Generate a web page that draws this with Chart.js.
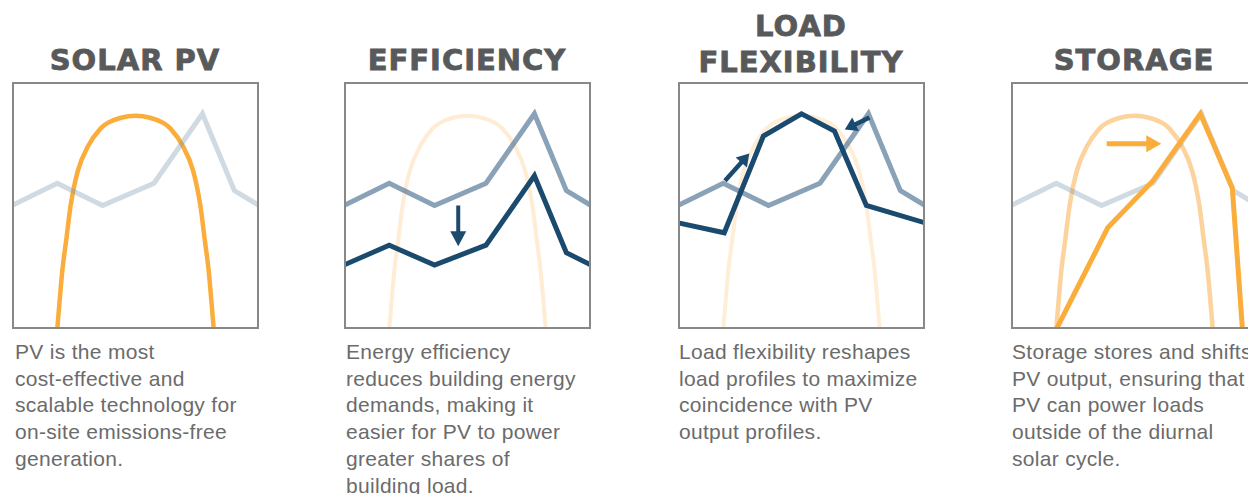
<!DOCTYPE html>
<html>
<head>
<meta charset="utf-8">
<script src="https://cdn.jsdelivr.net/npm/chart.js@4.4.0/dist/chart.umd.min.js"></script>
<style>
  html, body { margin: 0; padding: 0; background: #fff; overflow: hidden; width: 1248px; height: 494px; }
  .title { position: absolute; width: 330px; text-align: center; font-family: "DejaVu Sans", sans-serif; font-weight: bold;
           font-size: 29px; line-height: 36px; color: #58595b; letter-spacing: 1px; white-space: nowrap;
           -webkit-text-stroke: 0.8px #58595b; }
  .box { position: absolute; top: 82px; width: 247px; height: 247px; border: 2px solid #888; box-sizing: border-box; }
  .box canvas { display: block; }
  .desc { position: absolute; top: 339px; font-family: "Liberation Sans", Arial, sans-serif; font-size: 21px; line-height: 26.7px;
          color: #6b6b6b; letter-spacing: 0.3px; white-space: nowrap; }
</style>
</head>
<body>

<div class="title" style="left:-30px; top:42px">SOLAR PV</div>
<div class="title" style="left:302px; top:42px">EFFICIENCY</div>
<div class="title" style="left:636px; top:8px">LOAD<br>FLEXIBILITY</div>
<div class="title" style="left:969px; top:42px">STORAGE</div>

<div class="box" style="left:12px"><canvas id="c1" width="243" height="243"></canvas></div>
<div class="box" style="left:344px"><canvas id="c2" width="243" height="243"></canvas></div>
<div class="box" style="left:678px"><canvas id="c3" width="243" height="243"></canvas></div>
<div class="box" style="left:1011px"><canvas id="c4" width="243" height="243"></canvas></div>

<div class="desc" style="left:15px">PV is the most<br>cost-effective and<br>scalable technology for<br>on-site emissions-free<br>generation.</div>
<div class="desc" style="left:346px">Energy efficiency<br>reduces building energy<br>demands, making it<br>easier for PV to power<br>greater shares of<br>building load.</div>
<div class="desc" style="left:679px">Load flexibility reshapes<br>load profiles to maximize<br>coincidence with PV<br>output profiles.</div>
<div class="desc" style="left:1012px">Storage stores and shifts<br>PV output, ensuring that<br>PV can power loads<br>outside of the diurnal<br>solar cycle.</div>

<script>
// hours of the day (x) and relative level 0-100 (y)
var loadHours = [0, 4.4, 8.8, 13.8, 18.5, 21.6, 24];
var baseLoad = [50, 59, 50, 59, 87, 56, 50];
var efficientLoad = [26, 34, 26, 34, 62, 31, 26];

var flexHours = [0, 4.5, 8.3, 12, 15.2, 18.3, 24];
var flexLoad = [43, 39, 78, 87, 80, 50, 43];

var pvHours = [4.4, 4.6, 4.9, 5.3, 5.7, 6.4, 7.4, 8.6, 9.3, 10.5, 12, 13.5, 14.7, 15.4, 16.6, 17.6, 18.3, 18.7, 19.1, 19.4, 19.6];
var pvOutput = [0, 10, 24, 37, 50, 64, 74, 81, 83.3, 85.3, 86.2, 85.3, 83.3, 81, 74, 64, 50, 37, 24, 10, 0];

var storageHours = [4.4, 9.4, 13.8, 18.4, 21.5, 22.5];
var storedPv = [0, 41, 60, 87, 57, -1];

var NAVY = "#1b4a6f";
var ORANGE = "#fbad3c";

function pts(xs, ys) {
    var out = [];
    for (var i = 0; i < xs.length; i++) out.push({x: xs[i], y: ys[i]});
    return out;
}

function line(xs, ys, color, width, smooth) {
    return {
        data: pts(xs, ys),
        borderColor: color,
        borderWidth: width,
        pointRadius: 0,
        fill: false,
        borderJoinStyle: smooth ? "round" : "miter",
        cubicInterpolationMode: smooth ? "monotone" : "default",
        tension: 0
    };
}

// draws arrows given in data units
var arrowPlugin = {
    id: "arrows",
    afterDatasetsDraw: function (chart, args, opts) {
        var ctx = chart.ctx, sx = chart.scales.x, sy = chart.scales.y;
        (opts.list || []).forEach(function (a) {
            var x0 = sx.getPixelForValue(a.from[0]), y0 = sy.getPixelForValue(a.from[1]);
            var x1 = sx.getPixelForValue(a.to[0]), y1 = sy.getPixelForValue(a.to[1]);
            var ang = Math.atan2(y1 - y0, x1 - x0);
            var len = a.head, half = a.headWidth / 2;
            var bx = x1 - Math.cos(ang) * len, by = y1 - Math.sin(ang) * len;
            ctx.save();
            ctx.strokeStyle = a.color;
            ctx.fillStyle = a.color;
            ctx.lineWidth = a.width;
            ctx.beginPath();
            ctx.moveTo(x0, y0);
            ctx.lineTo(bx + Math.cos(ang), by + Math.sin(ang));
            ctx.stroke();
            ctx.beginPath();
            ctx.moveTo(x1, y1);
            ctx.lineTo(bx + Math.sin(ang) * half, by - Math.cos(ang) * half);
            ctx.lineTo(bx - Math.sin(ang) * half, by + Math.cos(ang) * half);
            ctx.closePath();
            ctx.fill();
            ctx.restore();
        });
    }
};

function panel(id, datasets, arrows) {
    new Chart(document.getElementById(id).getContext("2d"), {
        type: "line",
        data: {datasets: datasets},
        options: {
            responsive: false,
            animation: false,
            layout: {padding: 0},
            scales: {
                x: {type: "linear", min: 0.2, max: 23.8, display: false},
                y: {min: 1, max: 99, display: false}
            },
            plugins: {legend: {display: false}, tooltip: {enabled: false}, arrows: {list: arrows}}
        },
        plugins: [arrowPlugin]
    });
}

// first dataset is drawn on top
panel("c1", [
    line(loadHours, baseLoad, "rgba(120,150,175,0.35)", 5, false),
    line(pvHours, pvOutput, ORANGE, 4.5, true)
], []);

panel("c2", [
    line(loadHours, efficientLoad, NAVY, 5, false),
    line(loadHours, baseLoad, "rgba(60,100,135,0.6)", 5, false),
    line(pvHours, pvOutput, "rgba(249,168,59,0.22)", 4, true)
], [{from: [11.1, 50], to: [11.1, 33.6], color: NAVY, width: 4, head: 15, headWidth: 16}]);

panel("c3", [
    line(flexHours, flexLoad, NAVY, 5, false),
    line(loadHours, baseLoad, "rgba(60,100,135,0.6)", 5, false),
    line(pvHours, pvOutput, "rgba(249,168,59,0.2)", 4, true)
], [
    {from: [4.57, 60], to: [6.93, 71], color: NAVY, width: 4.5, head: 12, headWidth: 15},
    {from: [18.6, 85.5], to: [16.2, 80.6], color: NAVY, width: 4.5, head: 12, headWidth: 15}
]);

panel("c4", [
    line(storageHours, storedPv, ORANGE, 5, false),
    line(loadHours, baseLoad, "rgba(120,150,175,0.35)", 5, false),
    line(pvHours, pvOutput, "rgba(249,168,59,0.5)", 4.5, true)
], [{from: [9.3, 74.9], to: [14.6, 74.9], color: ORANGE, width: 5, head: 15, headWidth: 17}]);
</script>
</body>
</html>
